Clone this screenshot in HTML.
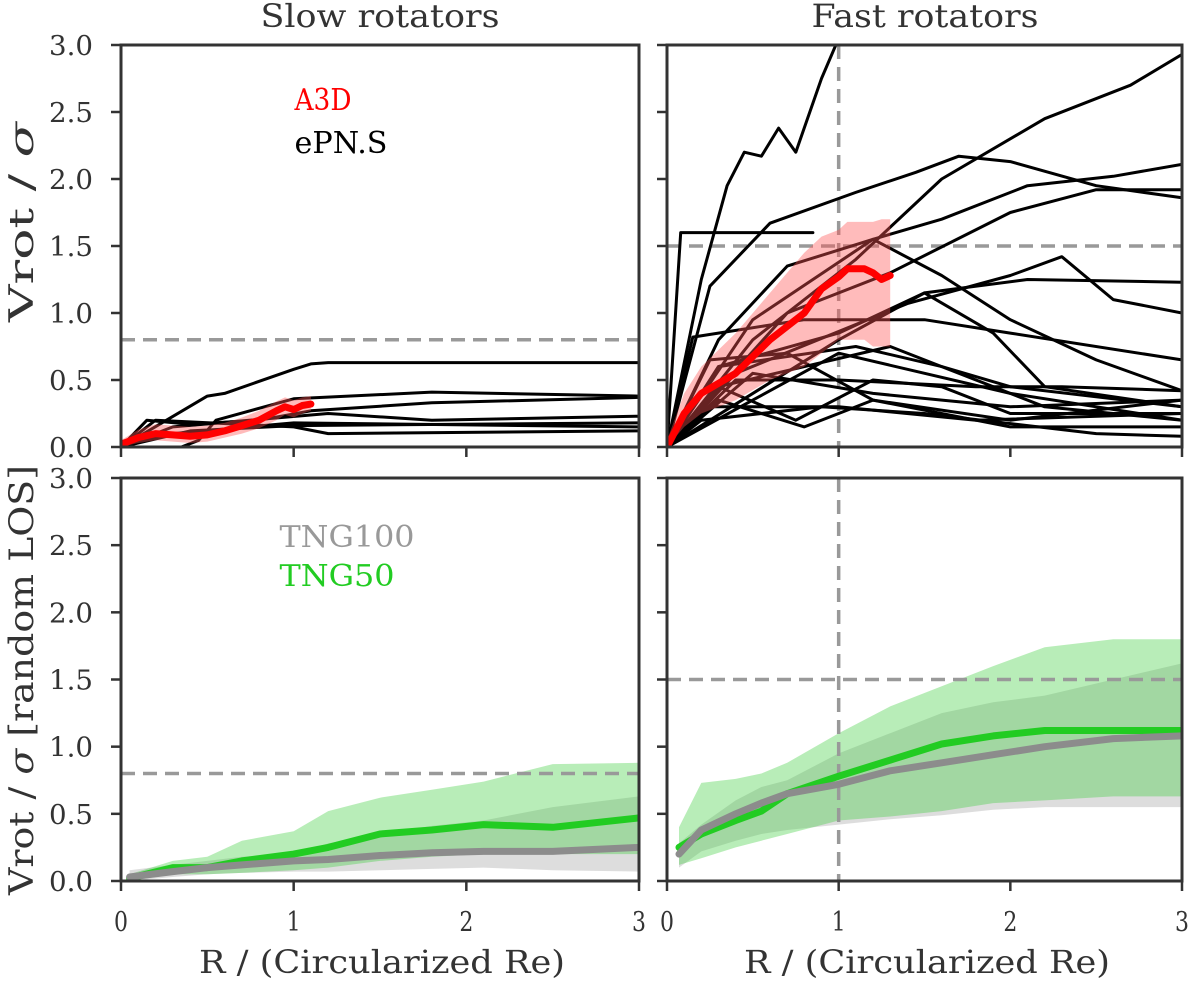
<!DOCTYPE html>
<html><head><meta charset="utf-8"><style>
html,body{margin:0;padding:0;background:#fff;}
svg text{font-family:"DejaVu Serif","Liberation Serif",serif;}
</style></head><body>
<svg id="c" width="1200" height="982" viewBox="0 0 1200 982" xmlns="http://www.w3.org/2000/svg"></svg>
<script>
// ---- data ----
const xTicks=[0,1,2,3];
const xTickLabels=["0","1","2","3"];
const yTicks=[0,0.5,1,1.5,2,2.5,3];
const yTickLabels=["0.0","0.5","1.0","1.5","2.0","2.5","3.0"];
const slowEpns=[
 [[0,0],[0.5,0.38],[0.6,0.4],[1.0,0.58],[1.1,0.62],[1.2,0.63],[3,0.63]],
 [[0,0],[0.35,0],[0.45,0.05],[0.55,0.2],[1.0,0.36],[1.8,0.41],[3,0.38]],
 [[0,0],[0.15,0.2],[0.4,0.17],[0.8,0.2],[1.1,0.27],[1.8,0.33],[3,0.37]],
 [[0,0],[0.3,0.15],[1.2,0.25],[1.8,0.2],[3,0.23]],
 [[0,0],[0.2,0.2],[1,0.15],[1.2,0.1],[3,0.12]],
 [[0,0],[0.3,0.1],[1,0.18],[3,0.15]],
 [[0,0],[0.4,0.12],[1,0.16],[3,0.18]]
];
const slowA3dX=[0,0.1,0.2,0.3,0.4,0.5,0.6,0.7,0.8,0.9,0.95,1.0,1.05,1.1];
const slowA3dY=[0.02,0.07,0.1,0.09,0.08,0.09,0.12,0.16,0.2,0.27,0.3,0.28,0.31,0.32];
const slowA3dLo=[0,0.03,0.05,0.04,0.03,0.04,0.07,0.1,0.14,0.2,0.24,0.22,0.25,0.27];
const slowA3dHi=[0.05,0.13,0.17,0.16,0.15,0.16,0.18,0.22,0.27,0.34,0.37,0.35,0.37,0.38];
const fastEpns=[
 [[0,0],[0.2,1.25],[0.35,1.95],[0.45,2.2],[0.55,2.17],[0.65,2.38],[0.75,2.2],[0.9,2.75],[1,3.05]],
 [[0,0],[0.08,1.6],[0.85,1.6]],
 [[0,0],[0.25,1.2],[0.6,1.67],[1.1,1.9],[1.45,2.05],[1.7,2.17],[2.0,2.13],[2.5,1.95],[3,1.86]],
 [[0,0],[0.5,0.8],[1.1,1.4],[1.6,2.0],[2.2,2.45],[2.7,2.7],[3,2.93]],
 [[0,0],[0.5,0.95],[1.2,1.55],[1.6,1.7],[2.1,1.95],[2.6,2.02],[3,2.11]],
 [[0,0],[0.7,1.0],[1.3,1.3],[2.0,1.75],[2.5,1.92],[3,1.92]],
 [[0,0],[0.3,0.8],[0.7,1.35],[1.2,1.55],[1.6,1.28],[2.0,0.95],[2.5,0.65],[3,0.42]],
 [[0,0],[1.0,0.8],[1.5,1.15],[2.1,1.25],[3,1.23]],
 [[0,0],[0.4,0.55],[1.4,1.07],[2.0,1.28],[2.3,1.42],[2.6,1.1],[3,1.0]],
 [[0,0],[0.15,0.82],[0.8,0.95],[1.5,0.95],[2.0,0.85],[3,0.65]],
 [[0,0],[0.3,0.6],[1.0,0.85],[1.5,1.15],[1.9,0.85],[2.2,0.45],[3,0.3]],
 [[0,0],[0.5,0.55],[1.2,0.4],[2.0,0.3],[3,0.35]],
 [[0,0],[0.3,0.45],[0.75,0.2],[1.2,0.5],[1.6,0.45],[2.0,0.25],[3,0.25]],
 [[0,0],[0.3,0.35],[0.8,0.15],[1.2,0.35],[2.0,0.15],[3,0.15]],
 [[0,0],[0.4,0.5],[1.0,0.5],[1.8,0.45],[2.3,0.45],[3,0.42]],
 [[0,0],[0.3,0.45],[1.3,0.75],[1.6,0.6],[2.0,0.45],[3,0.3]],
 [[0,0],[0.5,0.35],[1.0,0.7],[1.5,0.55],[2.0,0.4],[3,0.2]],
 [[0,0],[0.2,0.3],[1.0,0.3],[1.8,0.2],[3,0.25]],
 [[0,0],[0.3,0.6],[1.1,0.75],[1.6,0.6],[2.2,0.3],[3,0.2]],
 [[0,0],[0.2,0.2],[0.9,0.3],[1.5,0.25],[2.5,0.1],[3,0.08]],
 [[0,0],[0.25,0.65],[0.7,0.7],[1.2,0.35],[2.0,0.2],[3,0.35]]
];
const fastA3dX=[0,0.1,0.2,0.4,0.6,0.8,0.9,1.0,1.05,1.15,1.2,1.25,1.3];
const fastA3dY=[0,0.25,0.4,0.55,0.8,1.0,1.18,1.27,1.33,1.33,1.3,1.25,1.28];
const fastA3dLo=[0,0.15,0.25,0.35,0.5,0.6,0.7,0.8,0.8,0.8,0.75,0.75,0.75];
const fastA3dHi=[0.05,0.4,0.6,0.85,1.15,1.45,1.57,1.62,1.68,1.68,1.68,1.7,1.7];
const slowTngX=[0.05,0.3,0.5,0.7,1.0,1.2,1.5,1.8,2.1,2.5,3];
const slowTng50=[0.02,0.1,0.1,0.15,0.2,0.25,0.35,0.38,0.42,0.4,0.47];
const slowTng50Lo=[0,0.05,0.05,0.06,0.08,0.1,0.15,0.18,0.2,0.2,0.2];
const slowTng50Hi=[0.05,0.15,0.18,0.3,0.37,0.52,0.62,0.68,0.74,0.87,0.88];
const slowTng100=[0.03,0.07,0.1,0.12,0.15,0.16,0.19,0.21,0.22,0.22,0.25];
const slowTng100Lo=[0,0.03,0.05,0.06,0.07,0.07,0.08,0.09,0.1,0.08,0.07];
const slowTng100Hi=[0.08,0.12,0.15,0.18,0.2,0.28,0.35,0.41,0.45,0.55,0.63];
const fastTngX=[0.07,0.2,0.4,0.55,0.7,1.0,1.3,1.6,1.9,2.2,2.6,3];
const fastTng50=[0.25,0.35,0.45,0.52,0.65,0.78,0.9,1.02,1.08,1.12,1.12,1.12];
const fastTng50Lo=[0.12,0.17,0.25,0.3,0.35,0.45,0.48,0.52,0.58,0.6,0.63,0.63];
const fastTng50Hi=[0.4,0.73,0.76,0.8,0.88,1.1,1.3,1.45,1.6,1.74,1.8,1.8];
const fastTng100=[0.2,0.38,0.5,0.58,0.65,0.72,0.82,0.88,0.94,1.0,1.06,1.08];
const fastTng100Lo=[0.1,0.22,0.3,0.35,0.38,0.42,0.46,0.49,0.53,0.55,0.55,0.55];
const fastTng100Hi=[0.28,0.42,0.6,0.7,0.75,0.95,1.1,1.25,1.33,1.38,1.5,1.62];

// ---- layout ----
const NS="http://www.w3.org/2000/svg";
const svg=document.getElementById('c');
const panels={
 tl:{x0:121,x1:639,y0:45,y1:447},
 tr:{x0:667,x1:1182,y0:45,y1:447},
 bl:{x0:121,x1:639,y0:478,y1:881},
 br:{x0:667,x1:1182,y0:478,y1:881}
};
function mk(tag,attrs,parent){const e=document.createElementNS(NS,tag);for(const k in attrs)e.setAttribute(k,attrs[k]);(parent||svg).appendChild(e);return e;}
function sx(p,v){return p.x0+(p.x1-p.x0)*v/3;}
function sy(p,v){return p.y1-(p.y1-p.y0)*v/3;}
function pathPts(p,pts){return pts.map((q,i)=>(i?'L':'M')+sx(p,q[0]).toFixed(1)+','+sy(p,q[1]).toFixed(1)).join('');}
function zip(xs,ys){return xs.map((x,i)=>[x,ys[i]]);}
let clipId=0;
function group(p,name){
 const id='clip'+(clipId++);
 const cp=mk('clipPath',{id:id});
 mk('rect',{x:p.x0,y:p.y0,width:p.x1-p.x0,height:p.y1-p.y0},cp);
 const g=mk('g',{'clip-path':'url(#'+id+')'});
 
 
 return g;
}
function line(g,p,pts,stroke,w,name){
 const e=mk('path',{d:pathPts(p,pts),fill:'none',stroke:stroke,'stroke-width':w,'stroke-linejoin':'round','stroke-linecap':'round'},g);
 
 
}
function band(g,p,xs,lo,hi,fill,op,name){
 const pts=zip(xs,hi).concat(zip(xs,lo).reverse());
 const e=mk('path',{d:pathPts(p,pts)+'Z',fill:fill,'fill-opacity':op,stroke:'none'},g);
 
 
}
function dashH(g,p,v){const e=mk('line',{x1:p.x0,x2:p.x1,y1:sy(p,v),y2:sy(p,v),stroke:'#999','stroke-width':3.5,'stroke-dasharray':'14 8'},g);}
function dashV(g,p,v){const e=mk('line',{x1:sx(p,v),x2:sx(p,v),y1:p.y0,y2:p.y1,stroke:'#999','stroke-width':3.5,'stroke-dasharray':'14 8'},g);}
function axes(p,showY,showX,name){
 const g=mk('g',{});
 
 
 yTicks.forEach((t,i)=>{
  mk('line',{x1:p.x0-10,x2:p.x0,y1:sy(p,t),y2:sy(p,t),stroke:'#333','stroke-width':2.5},g);
  if(showY){const tx=mk('text',{x:49,y:sy(p,t)+10,'font-size':27,fill:'#333',textLength:44,lengthAdjust:'spacingAndGlyphs'},g);tx.textContent=yTickLabels[i];
   }
 });
 xTicks.forEach((t,i)=>{
  mk('line',{x1:sx(p,t),x2:sx(p,t),y1:p.y1,y2:p.y1+10,stroke:'#333','stroke-width':2.5},g);
  if(showX){const tx=mk('text',{x:sx(p,t),y:931,'text-anchor':'middle','font-size':27,fill:'#333',textLength:14,lengthAdjust:'spacingAndGlyphs'},g);tx.textContent=xTickLabels[i];
   }
 });
 mk('rect',{x:p.x0,y:p.y0,width:p.x1-p.x0,height:p.y1-p.y0,fill:'none',stroke:'#333','stroke-width':3},g);
}
function txt(x,y,s,size,fill,name,len,rot){
 const a={x:x,y:y,'font-size':size,fill:fill,'text-anchor':'middle',textLength:len,lengthAdjust:'spacingAndGlyphs'};
 if(rot)a.transform='rotate(-90 '+x+' '+y+')';
 const t=mk('text',a);t.innerHTML=s;
 
}

// top-left
let p=panels.tl, g=group(p,'slow-rotators-observed-panel');
dashH(g,p,0.8);
slowEpns.forEach(c=>line(g,p,c,'#000',3,'epns-slow-curve'));
band(g,p,slowA3dX,slowA3dLo,slowA3dHi,'#f55',0.4,'a3d-slow-band');
line(g,p,zip(slowA3dX,slowA3dY),'#f00',7,'a3d-slow-median');
axes(p,true,false,'slow-observed-axes');
// top-right
p=panels.tr; g=group(p,'fast-rotators-observed-panel');
dashH(g,p,1.5); dashV(g,p,1);
fastEpns.forEach(c=>line(g,p,c,'#000',3,'epns-fast-curve'));
band(g,p,fastA3dX,fastA3dLo,fastA3dHi,'#f55',0.4,'a3d-fast-band');
line(g,p,zip(fastA3dX,fastA3dY),'#f00',7,'a3d-fast-median');
axes(p,false,false,'fast-observed-axes');
// bottom-left
p=panels.bl; g=group(p,'slow-rotators-simulated-panel');
band(g,p,slowTngX,slowTng100Lo,slowTng100Hi,'#aaa',0.4,'tng100-slow-band');
band(g,p,slowTngX,slowTng50Lo,slowTng50Hi,'#3c3',0.35,'tng50-slow-band');
dashH(g,p,0.8);
line(g,p,zip(slowTngX,slowTng50),'#2c2',7,'tng50-slow-median');
line(g,p,zip(slowTngX,slowTng100),'#8c8c8c',7,'tng100-slow-median');
axes(p,true,true,'slow-simulated-axes');
// bottom-right
p=panels.br; g=group(p,'fast-rotators-simulated-panel');
band(g,p,fastTngX,fastTng100Lo,fastTng100Hi,'#aaa',0.4,'tng100-fast-band');
band(g,p,fastTngX,fastTng50Lo,fastTng50Hi,'#3c3',0.35,'tng50-fast-band');
dashH(g,p,1.5); dashV(g,p,1);
line(g,p,zip(fastTngX,fastTng50),'#2c2',7,'tng50-fast-median');
line(g,p,zip(fastTngX,fastTng100),'#8c8c8c',7,'tng100-fast-median');
axes(p,false,true,'fast-simulated-axes');

// text
txt(380,27,'Slow rotators',32,'#333','slow-rotators-title',239);
txt(925,27,'Fast rotators',32,'#333','fast-rotators-title',227);
txt(382,973,'R / (Circularized Re)',32,'#333','x-axis-title-left',366);
txt(927,973,'R / (Circularized Re)',32,'#333','x-axis-title-right',366);
txt(33,222,'Vrot  / <tspan font-style="italic">σ</tspan>',34,'#333','y-axis-title-top',200,true);
txt(33,680,'Vrot  / <tspan font-style="italic">σ</tspan> [random LOS]',34,'#333','y-axis-title-bottom',430,true);
txt(323,110,'A3D',30,'#f00','legend-a3d',57);
txt(341,153,'ePN.S',30,'#000','legend-epns',93);
txt(347,547,'TNG100',30,'#999','legend-tng100',135);
txt(337,586,'TNG50',30,'#2c2','legend-tng50',115);
</script>
</body></html>
